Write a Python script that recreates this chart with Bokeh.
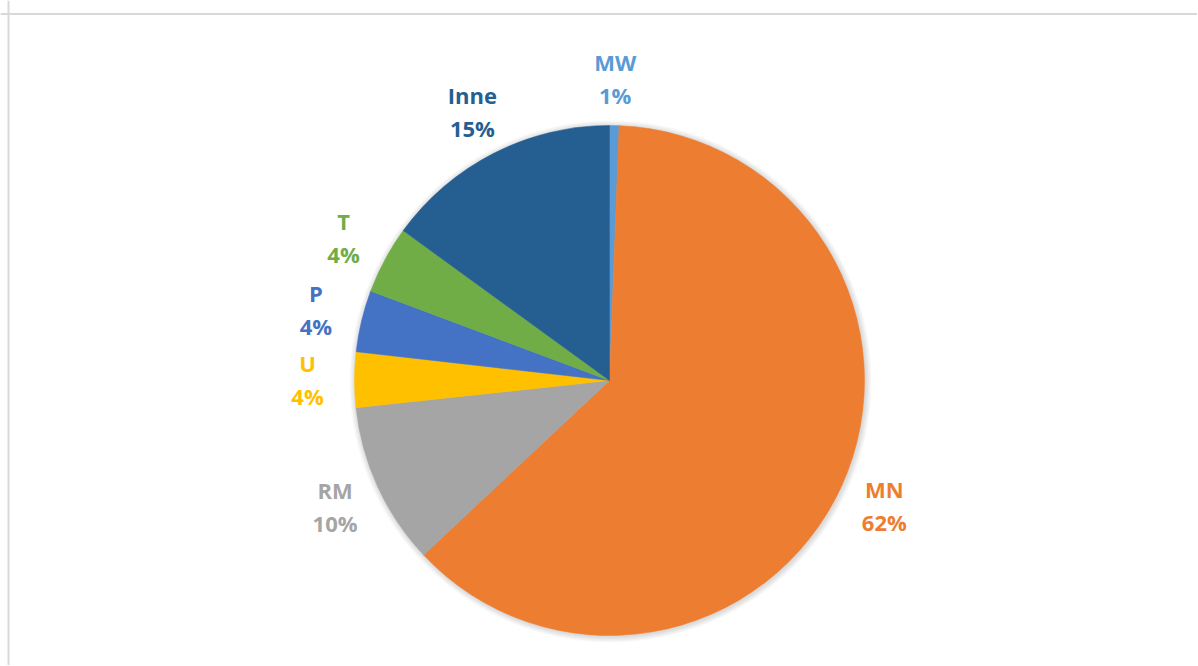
import math
from bokeh.plotting import figure
from bokeh.models import Range1d, Span, ColumnDataSource
from bokeh.core.properties import value
from bokeh.embed import file_html
from bokeh.resources import INLINE

categories = ["MW", "MN", "RM", "U", "P", "T", "Inne"]
shares = [0.6, 62.4, 10.3, 3.5, 3.9, 4.3, 15.0]
colors = ["#5B9BD5", "#ED7D31", "#A5A5A5", "#FFC000", "#4472C4", "#70AD47", "#255E91"]

W, H = 1197, 665
p = figure(width=W, height=H, x_range=Range1d(0, W), y_range=Range1d(0, H),
           output_backend="svg", toolbar_location=None, min_border=0)
p.axis.visible = False
p.grid.visible = False
p.outline_line_color = None
p.background_fill_color = "white"

# chart border (top and left visible)
p.add_layout(Span(location=8, dimension="height", line_color="#d9d9d9", line_width=2))
p.add_layout(Span(location=H - 13.5, dimension="width", line_color="#d9d9d9", line_width=2))

cx, cy, R = 609, H - 380, 255

# soft shadow
for k in range(1, 7):
    p.circle(x=[cx + 1], y=[cy - 1], radius=R + k, fill_color="#000000",
             fill_alpha=0.025, line_color=None)

total = sum(shares)
starts, ends, mids = [], [], []
acc = 0.0
for v in shares:
    s = acc / total
    acc += v
    e = acc / total
    starts.append(math.pi / 2 - 2 * math.pi * s)
    ends.append(math.pi / 2 - 2 * math.pi * e)
    mids.append(math.pi / 2 - 2 * math.pi * (s + e) / 2)

src = ColumnDataSource(dict(cat=categories, start=starts, end=ends, color=colors))
p.wedge(x=cx, y=cy, radius=R, start_angle="start", end_angle="end",
        direction="clock", fill_color="color", line_color="color", line_width=0.5,
        source=src)

RL = 302
lx = [cx + RL * math.cos(a) for a in mids]
ly = [cy + RL * math.sin(a) for a in mids]
pct = [f"{int(v + 0.5)}%" for v in shares]

lab = ColumnDataSource(dict(x=lx, y1=[y + 16.5 for y in ly], y2=[y - 16.5 for y in ly],
                            name=categories, pct=pct, color=colors))
for ycol, tcol in (("y1", "name"), ("y2", "pct")):
    p.text(x="x", y=ycol, text=tcol, source=lab, text_color="color",
           text_font=value("Open Sans"), text_font_style="bold",
           text_font_size="22px", text_align="center", text_baseline="middle")

open("out.html", "w").write(file_html(p, INLINE))
